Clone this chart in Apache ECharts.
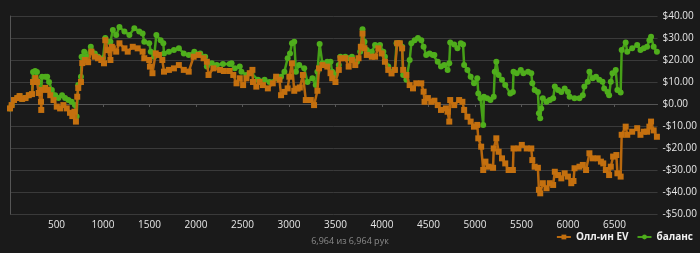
<!DOCTYPE html>
<html>
<head>
<meta charset="utf-8">
<script src="https://cdn.jsdelivr.net/npm/echarts/dist/echarts.min.js"></script>
<style>
html,body{margin:0;padding:0;background:#1a1a1a;}
#chart{width:700px;height:253px;}
</style>
</head>
<body>
<div id="chart"></div>
<script>
const seriesNames = ['Олл-ин EV', 'баланс'];
const xTicks = [0, 500, 1000, 1500, 2000, 2500, 3000, 3500, 4000, 4500, 5000, 5500, 6000, 6500];
const yTicks = [-50, -40, -30, -20, -10, 0, 10, 20, 30, 40];
const footerText = '6,964 из 6,964 рук';
const totalHands = 6964;

const evHands = [0,18,43,78,103,131,167,202,237,248,273,290,309,333,336,344,380,408,433,468,503,539,574,610,645,670,693,709,723,734,763,777,805,840,876,912,947,982,1011,1025,1053,1080,1095,1106,1142,1177,1231,1266,1320,1373,1426,1444,1497,1505,1532,1567,1602,1638,1656,1709,1763,1816,1869,1922,1975,2028,2082,2117,2135,2188,2259,2300,2362,2401,2436,2471,2507,2543,2578,2607,2613,2649,2684,2720,2773,2826,2862,2898,2915,2951,2986,3004,3032,3057,3093,3117,3150,3181,3235,3270,3306,3323,3359,3412,3447,3465,3500,3536,3553,3606,3642,3677,3713,3748,3773,3791,3812,3837,3891,3926,3961,3997,4032,4068,4103,4139,4164,4192,4217,4228,4263,4298,4334,4369,4423,4448,4458,4494,4530,4564,4600,4635,4688,4706,4724,4734,4777,4830,4865,4884,4919,4954,4990,5025,5036,5067,5089,5113,5149,5195,5202,5230,5255,5291,5326,5362,5408,5415,5468,5504,5557,5606,5617,5642,5677,5688,5702,5730,5770,5805,5841,5859,5894,5929,5965,6000,6036,6060,6071,6124,6160,6195,6231,6266,6320,6355,6380,6408,6443,6461,6486,6521,6532,6567,6578,6621,6638,6691,6745,6780,6816,6851,6876,6894,6922,6957];
const evValues = [-2,-0.5,1.8,2.7,3.6,2.3,2.7,4,4.5,10,11.8,10,5,1,-2.7,6.4,7.3,6.4,4,1.8,-1.2,-2,-0.5,-2,-4,-5.5,-3.5,-8,3.3,7.3,10,18.6,20,19,23.8,21.5,20.8,20,18.5,29,24.5,20,26,25.3,23.8,27.6,25.3,23.8,26,25.3,23.8,20.8,20,17,14,23,22.3,20,14.7,15.5,16.2,17.7,15.5,14.7,21.5,22.3,20.8,19.2,13.2,16.2,15.5,15,15,13.2,9.4,11.7,8.6,11.7,14,15.5,10,7.9,10,8.6,7.1,9.4,12.4,11,4,5.5,7.1,12.4,18.5,6,7,7.5,13.2,1.8,1.8,-0.5,6,16.2,17.7,17,14,11.7,10,15.5,20.8,20.8,17,20,17.7,20.8,26,32,25.3,22.3,21.5,21.5,25.3,23,19.2,15.5,13.9,15.5,27.6,27.6,25.3,15.5,13.2,8.6,7.1,9.4,9.4,5.6,1,2.7,1,1.5,-0.5,-2.7,-2,-3.5,-8,1.8,-0.5,1.8,1,-2.7,-5.8,-8,-10.3,-9.5,-15.6,-19.4,-30,-26.2,-28.5,-29,-20.2,-15.6,-21.7,-24.7,-27,-30,-30,-20.2,-20.2,-18.6,-20.2,-20.2,-25.5,-28.5,-29,-39,-40.6,-36,-38.3,-36,-36.8,-30.8,-32.3,-33.8,-31.5,-33,-36,-35,-29.2,-28.5,-27.7,-30,-22.4,-24.7,-24.7,-26.2,-27,-30,-32.3,-28.5,-23.9,-23.2,-31.5,-33,-14,-10.3,-14,-12.6,-11,-14,-12.6,-12.6,-10.3,-8,-12,-14.9];

const balHands = [0,18,43,78,103,131,167,202,237,248,270,290,309,333,344,380,400,420,450,486,521,560,592,628,663,698,716,734,763,770,798,823,869,912,947,1000,1025,1053,1080,1106,1142,1177,1231,1284,1337,1390,1426,1444,1497,1514,1550,1574,1620,1649,1656,1709,1763,1816,1869,1922,1982,2046,2099,2117,2170,2224,2290,2362,2383,2418,2471,2489,2543,2596,2667,2738,2791,2862,2915,2951,2986,3011,3032,3057,3075,3110,3164,3199,3252,3288,3306,3330,3359,3412,3447,3465,3500,3536,3553,3606,3642,3677,3731,3766,3791,3812,3837,3891,3926,3979,4015,4032,4068,4103,4139,4157,4192,4217,4228,4263,4298,4316,4352,4387,4423,4448,4476,4512,4547,4564,4600,4635,4670,4706,4724,4734,4777,4812,4848,4872,4884,4919,4954,4990,5025,5036,5060,5089,5096,5131,5167,5202,5213,5230,5255,5291,5326,5380,5408,5415,5450,5493,5521,5571,5606,5617,5642,5677,5688,5702,5713,5730,5770,5805,5841,5859,5894,5929,5965,6000,6018,6071,6124,6160,6177,6213,6231,6266,6302,6337,6372,6390,6426,6443,6461,6479,6514,6532,6567,6578,6621,6638,6691,6745,6780,6816,6851,6876,6894,6922,6957];
const balValues = [-2,-0.5,1.8,2.7,3.6,2.3,2.7,4,4.5,14.5,15,14.5,10,1,12.4,12.4,12.4,10,6.4,4,2.7,4,2.7,1.8,1,-0.5,-5.7,8.6,12.4,21.5,23.8,21.5,26,23,21.5,20.8,30,28.3,28.3,33.6,31.4,35,32.9,31.4,34.4,32.9,32,28.3,27.6,23.8,21.5,31.4,29,27.6,23,23.8,24.5,25.3,23,22.3,23.8,23,21.5,17,18.5,17.7,18.2,18.2,18.5,16.2,17,14.7,13.2,14,11,11,10,11.7,12.4,14.7,20.8,23,27.6,28.3,14.7,17.7,16.2,10,11.7,8.6,14.7,27.3,18.5,19.2,19.2,14.7,13.2,17.7,21.5,21.5,20.8,21.5,19.2,23.8,34,28.3,24.5,23.8,26.8,26.8,23.8,21.5,17,14.7,15.5,27.6,27.6,26,13.2,11,20,27.6,29,30,29,26,22.3,23,22.3,22.3,19.2,17,17.7,15.5,18.5,27.9,27,25.3,27.6,27,17.7,15.5,12.4,9.4,11.7,4.8,2.6,-9.5,3.3,2.6,1.8,3.3,14.7,19.2,13.2,11,8.6,4.8,5.5,14.7,14,15.5,14,14.7,14,9.4,6.4,5.5,-4.2,-6.5,-2,2.6,1,1.8,2.6,7.9,6.4,5.5,7.1,5.5,3.3,2.6,2.6,4,7.9,10.1,14.7,11.7,12.4,11,10.1,7.1,5.5,4,10.1,14,15.5,6.4,5.2,24.5,27.9,23.8,25.3,26.8,24.5,25.3,26,29,30.6,26,23.8];

const toPairs = (xs, ys) => xs.map((x, i) => [x, ys[i]]);
const fmtMoney = v => (v < 0 ? '-$' : '$') + Math.abs(v).toFixed(2);

const chart = echarts.init(document.getElementById('chart'), null, {renderer: 'canvas'});
const FONT = '"Open Sans", "Noto Sans", sans-serif';
chart.setOption({
  backgroundColor: '#1a1a1a',
  animation: false,
  textStyle: {fontFamily: FONT},
  title: {
    text: footerText, left: 'center', bottom: 2,
    textStyle: {color: '#8a8a8a', fontSize: 9, fontWeight: 'normal', fontFamily: FONT}
  },
  legend: {
    data: seriesNames, right: 2, bottom: 6,
    itemWidth: 14, itemHeight: 6, itemGap: 8,
    textStyle: {color: '#f0f0f0', fontSize: 10, fontWeight: 'bold', fontFamily: FONT}
  },
  grid: {left: 10, right: 35, top: 16, bottom: 39, containLabel: false},
  xAxis: {
    type: 'value', min: 0, max: totalHands, interval: 500,
    axisLine: {show: true, lineStyle: {color: '#555', width: 1}},
    axisTick: {show: true, length: 3, lineStyle: {color: '#555'}},
    splitLine: {show: false},
    axisLabel: {
      color: '#e6e6e6', fontSize: 10, margin: 6, fontFamily: FONT,
      showMaxLabel: false,
      formatter: v => (xTicks.indexOf(v) > 0 ? String(v) : '')
    }
  },
  yAxis: {
    type: 'value', position: 'right', min: yTicks[0], max: yTicks[yTicks.length - 1], interval: 10,
    axisLine: {show: true, lineStyle: {color: '#555', width: 1}},
    axisTick: {show: false},
    splitLine: {show: true, lineStyle: {color: '#3a3a3a', width: 1}},
    axisLabel: {color: '#e6e6e6', fontSize: 10, margin: 5, fontFamily: FONT, formatter: fmtMoney}
  },
  series: [
    {
      name: seriesNames[1], type: 'line', data: toPairs(balHands, balValues),
      symbol: 'circle', symbolSize: 6, showAllSymbol: true,
      itemStyle: {color: '#4fae1c'},
      lineStyle: {color: '#46a018', width: 2.5},
      z: 2
    },
    {
      name: seriesNames[0], type: 'line', data: toPairs(evHands, evValues),
      symbol: 'rect', symbolSize: 6, showAllSymbol: true,
      itemStyle: {color: '#c4700f'},
      lineStyle: {color: '#b8680e', width: 2.5},
      z: 3
    }
  ]
});
</script>
</body>
</html>
